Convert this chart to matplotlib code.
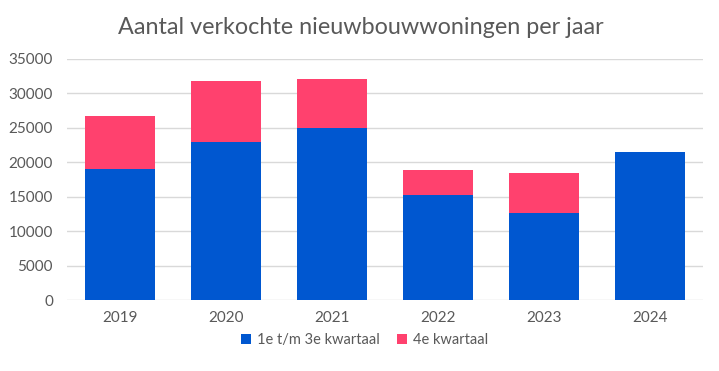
import matplotlib.pyplot as plt

# Data
years = ['2019', '2020', '2021', '2022', '2023', '2024']
q1_q3 = [19100, 22900, 25000, 15250, 12700, 21450]
q4 = [7600, 8900, 7100, 3650, 5800, 0]

blue = '#0057D0'
pink = '#FF416E'
text_color = '#595959'

plt.rcParams['font.family'] = ['Lato', 'DejaVu Sans']

fig = plt.figure(figsize=(7.19, 3.71), dpi=100)
ax = fig.add_axes([0.093, 0.191, 0.885, 0.650])

x = range(len(years))
bar_width = 0.66

ax.bar(x, q1_q3, bar_width, color=blue, label='1e t/m 3e kwartaal', zorder=3)
ax.bar(x, q4, bar_width, bottom=q1_q3, color=pink, label='4e kwartaal', zorder=3)

ax.set_ylim(0, 35000)
ax.set_xlim(-0.5, len(years) - 0.5)
ax.set_yticks(range(0, 35001, 5000))
ax.set_xticks(list(x))
ax.set_xticklabels(years)
ax.grid(axis='y', color='#D9D9D9', linewidth=1, zorder=0)
ax.tick_params(length=0, labelsize=11, colors=text_color, pad=8)
ax.tick_params(axis='y', pad=10)
for spine in ax.spines.values():
    spine.set_visible(False)

fig.suptitle('Aantal verkochte nieuwbouwwoningen per jaar',
             x=0.502, y=0.955, fontsize=16.8, color=text_color)

fig.legend(loc='center', bbox_to_anchor=(0.507, 0.083), ncol=2, frameon=False,
           fontsize=10.5, labelcolor=text_color, handlelength=0.7,
           handleheight=0.7, handletextpad=0.4, columnspacing=1.2)

plt.savefig('out.png', dpi=100)
